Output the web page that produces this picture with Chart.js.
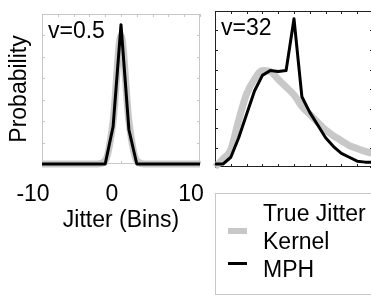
<!DOCTYPE html>
<html>
<head>
<meta charset="utf-8">
<script src="https://cdn.jsdelivr.net/npm/chart.js@4.4.0/dist/chart.umd.min.js"></script>
<style>
  html, body { margin: 0; padding: 0; background: #fff; overflow: hidden; }
  body { width: 371px; height: 295px; position: relative; font-family: "Liberation Sans", Arial, sans-serif; }
  #leftWrap { position: absolute; left: 0; top: 0; width: 216px; height: 250px; }
  #rightWrap { position: absolute; left: 213px; top: 9px; width: 162px; height: 160px; }
  #legend { position: absolute; left: 215px; top: 193px; width: 170px; height: 102px; border: 1px solid #c8c8c8; box-sizing: border-box; font-size: 23px; color: #000; }
  #legend .sw { position: absolute; left: 12px; width: 19px; }
  #legend .txt { position: absolute; left: 47px; line-height: 28px; white-space: nowrap; }
</style>
</head>
<body>
<div id="leftWrap"><canvas id="leftChart"></canvas></div>
<div id="rightWrap"><canvas id="rightChart"></canvas></div>
<div id="legend">
  <span class="sw" style="top:34px;height:6px;background:#c8c8c8"></span>
  <span class="txt" style="top:5px">True Jitter<br>Kernel</span>
  <span class="sw" style="top:68px;height:3px;background:#000"></span>
  <span class="txt" style="top:61px">MPH</span>
</div>
<script>
// jitter bins, -10 .. 10
const bins = [-10, -9, -8, -7, -6, -5, -4, -3, -2, -1, 0, 1, 2, 3, 4, 5, 6, 7, 8, 9, 10];

// v = 0.5
const kernelSmall = [0, 0, 0, 0, 0, 0, 0, 0, 0.015, 0.2, 0.6, 0.2, 0.015, 0, 0, 0, 0, 0, 0, 0, 0];
const mphSmall    = [0, 0, 0, 0, 0, 0, 0, 0, 0, 0.175, 0.65, 0.16, 0, 0, 0, 0, 0, 0, 0, 0, 0];

// v = 32
const kernelLarge = [0, 0.008, 0.018, 0.048, 0.075, 0.09, 0.099, 0.098, 0.09, 0.082, 0.074,
                     0.062, 0.054, 0.046, 0.038, 0.032, 0.027, 0.022, 0.019, 0.016, 0.014];
const mphLarge    = [0.003, 0.003, 0.01, 0.03, 0.054, 0.078, 0.094, 0.099, 0.098, 0.099, 0.152,
                     0.072, 0.056, 0.043, 0.03, 0.021, 0.014, 0.01, 0.006, 0.005, 0.005];

const xTickLabels = [-10, 0, 10];
const FONT = '"Liberation Sans", Arial, sans-serif';

function pts(ys) {
    return bins.map((b, i) => ({ x: b, y: ys[i] }));
}

// box round the plot area, with small ticks pointing inward on all four sides
const framePlugin = {
    id: 'frame',
    beforeDatasetsDraw(chart, args, opts) {
        const { ctx, chartArea: a, scales } = chart;
        ctx.save();
        ctx.strokeStyle = opts.color;
        ctx.lineWidth = 1;
        ctx.strokeRect(a.left + 0.5, a.top + 0.5, a.right - a.left - 1, a.bottom - a.top - 1);
        ctx.beginPath();
        scales.x.ticks.forEach(t => {
            const px = Math.round(scales.x.getPixelForValue(t.value)) + 0.5;
            ctx.moveTo(px, a.top); ctx.lineTo(px, a.top + 3);
            ctx.moveTo(px, a.bottom); ctx.lineTo(px, a.bottom - 3);
        });
        scales.y.ticks.forEach(t => {
            const py = Math.round(scales.y.getPixelForValue(t.value)) + 0.5;
            ctx.moveTo(a.left, py); ctx.lineTo(a.left + 3, py);
            ctx.moveTo(a.right, py); ctx.lineTo(a.right - 3, py);
        });
        ctx.stroke();
        ctx.restore();
    },
    afterDraw(chart, args, opts) {
        const { ctx, chartArea: a } = chart;
        ctx.save();
        ctx.fillStyle = '#000';
        ctx.font = '23px ' + FONT;
        ctx.textBaseline = 'alphabetic';
        ctx.fillText(opts.label, a.left + 6, a.top + 24);
        ctx.restore();
    }
};

function datasets(kernel, mph) {
    return [
        { label: 'True Jitter Kernel', data: pts(kernel), borderColor: '#c8c8c8', borderWidth: 7,
          pointRadius: 0, tension: 0.35, cubicInterpolationMode: 'monotone', order: 2, clip: false },
        { label: 'MPH', data: pts(mph), borderColor: '#000', borderWidth: 3,
          pointRadius: 0, tension: 0, order: 1, clip: false, borderJoinStyle: 'round' }
    ];
}

const leftChart = new Chart(document.getElementById('leftChart'), {
    type: 'line',
    data: { datasets: datasets(kernelSmall, mphSmall) },
    plugins: [framePlugin],
    options: {
        responsive: true,
        maintainAspectRatio: false,
        animation: false,
        events: [],
        layout: { padding: { top: 14, right: 16, bottom: 0, left: 0 } },
        plugins: {
            legend: { display: false },
            tooltip: { enabled: false },
            frame: { color: '#c8c8c8', label: 'v=0.5' }
        },
        scales: {
            x: {
                type: 'linear', min: -10, max: 10,
                grid: { display: false, drawTicks: false },
                border: { display: false },
                ticks: {
                    stepSize: 2, autoSkip: false, maxRotation: 0, padding: 17, labelOffset: -9,
                    color: '#000', font: { family: FONT, size: 23 },
                    callback: v => xTickLabels.includes(v) ? String(v) : ''
                },
                title: { display: true, text: 'Jitter (Bins)', color: '#000',
                         font: { family: FONT, size: 23 }, padding: { top: 0, bottom: 16 } },
                afterFit: s => { s.height = 86; s.paddingLeft = 0; s.paddingRight = 0; }
            },
            y: {
                min: 0, max: 0.7,
                grid: { display: false, drawTicks: false },
                border: { display: false },
                ticks: { display: false, stepSize: 0.1 },
                title: { display: true, text: 'Probability', color: '#000',
                         font: { family: FONT, size: 23 }, padding: { top: 6, bottom: 0 } },
                afterFit: s => { s.width = 42; }
            }
        }
    }
});

const rightChart = new Chart(document.getElementById('rightChart'), {
    type: 'line',
    data: { datasets: datasets(kernelLarge, mphLarge) },
    plugins: [framePlugin],
    options: {
        responsive: true,
        maintainAspectRatio: false,
        animation: false,
        events: [],
        layout: { padding: 2 },
        plugins: {
            legend: { display: false },
            tooltip: { enabled: false },
            frame: { color: '#222', label: 'v=32' }
        },
        scales: {
            x: {
                type: 'linear', min: -10, max: 10,
                grid: { display: false, drawTicks: false },
                border: { display: false },
                ticks: { display: false, stepSize: 2, autoSkip: false },
                afterFit: s => { s.height = 0; }
            },
            y: {
                min: 0, max: 0.16,
                grid: { display: false, drawTicks: false },
                border: { display: false },
                ticks: { display: false, stepSize: 0.02 },
                afterFit: s => { s.width = 0; }
            }
        }
    }
});
</script>
</body>
</html>
